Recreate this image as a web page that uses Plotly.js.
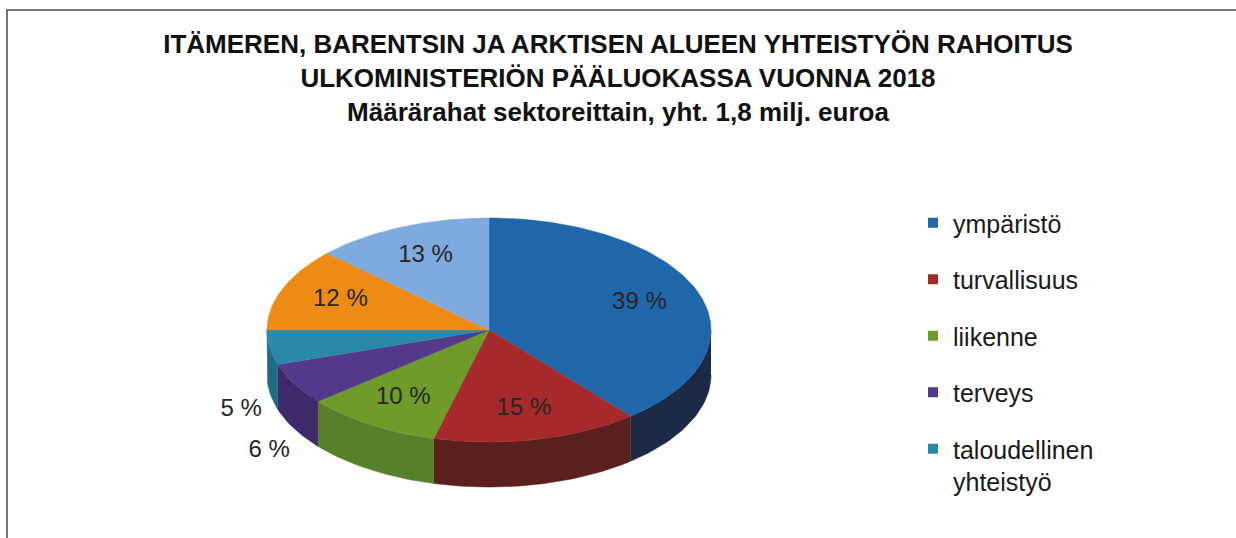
<!DOCTYPE html>
<html>
<head>
<meta charset="utf-8">
<script src="https://cdn.plot.ly/plotly-3.0.1.min.js"></script>
<style>html,body{margin:0;padding:0;background:#fff;}#chart{width:1236px;height:538px;}</style>
</head>
<body>
<div id="chart"></div>
<script>
// ---- data ----
const categories = ['ympäristö', 'turvallisuus', 'liikenne', 'terveys', 'taloudellinen yhteistyö', 'muu sektori A', 'muu sektori B'];
const values = [39, 15, 10, 6, 5, 12, 13];
const legendCategories = ['ympäristö', 'turvallisuus', 'liikenne', 'terveys', 'taloudellinen yhteistyö'];
const legendLabels = ['ympäristö', 'turvallisuus', 'liikenne', 'terveys', 'taloudellinen<br>yhteistyö'];
const topColors = ['#1f66ab', '#a62a2c', '#6e9b2a', '#54388a', '#2a89a8', '#ee8b15', '#7faadd'];
const sideColors = ['#1c2a46', '#5a201d', '#57802a', '#3c2a6a', '#1f6b82', '#b5680f', '#5a80b0'];
const titleText = '<b>ITÄMEREN, BARENTSIN JA ARKTISEN ALUEEN YHTEISTYÖN RAHOITUS<br>ULKOMINISTERIÖN PÄÄLUOKASSA VUONNA 2018<br>Määrärahat sektoreittain, yht. 1,8 milj. euroa</b>';

// ---- geometry (style) ----
const CX = 489, CY = 330, RX = 222, RY = 112, DEPTH = 45;
const FONT = 'Arial, "Liberation Sans", sans-serif';

const total = values.reduce((a, b) => a + b, 0);
const deg = Math.PI / 180;
function pt(theta, k, dy) { // theta in degrees clockwise from 12 o'clock
  return [CX + RX * k * Math.sin(theta * deg), CY - RY * k * Math.cos(theta * deg) + (dy || 0)];
}
function arc(a, b, dy) {
  const n = Math.max(2, Math.ceil(Math.abs(b - a) / 1.5));
  const xs = [], ys = [];
  for (let i = 0; i <= n; i++) {
    const p = pt(a + (b - a) * i / n, 1, dy);
    xs.push(p[0]); ys.push(p[1]);
  }
  return [xs, ys];
}

const traces = [];
const starts = [];
let acc = 0;
values.forEach(v => { starts.push(acc / total * 360); acc += v; });

// side walls (front half only)
values.forEach((v, i) => {
  const a = starts[i], b = starts[i] + v / total * 360;
  const s = Math.max(a, 90), e = Math.min(b, 270);
  if (e <= s) return;
  const top = arc(s, e, 0);
  const bot = arc(e, s, DEPTH);
  traces.push({
    type: 'scatter', mode: 'lines', fill: 'toself',
    x: top[0].concat(bot[0]), y: top[1].concat(bot[1]),
    fillcolor: sideColors[i], line: {color: sideColors[i], width: 0.5},
    hoverinfo: 'skip', showlegend: false
  });
});

// top slices
values.forEach((v, i) => {
  const a = starts[i], b = starts[i] + v / total * 360;
  const t = arc(a, b, 0);
  traces.push({
    type: 'scatter', mode: 'lines', fill: 'toself',
    x: [CX].concat(t[0], [CX]), y: [CY].concat(t[1], [CY]),
    fillcolor: topColors[i], line: {color: topColors[i], width: 0.5},
    name: categories[i], text: categories[i] + ': ' + v + ' %',
    hoveron: 'fills', hoverinfo: 'text', showlegend: false
  });
});

// percentage labels
const lx = [], ly = [], lt = [];
values.forEach((v, i) => {
  const mid = starts[i] + v / total * 180;
  const p = (v < 7) ? pt(mid, 1.13, DEPTH + 15) : pt(mid, 0.72, 0);
  lx.push(p[0]); ly.push(p[1]); lt.push(v + ' %');
});
traces.push({
  type: 'scatter', mode: 'text', x: lx, y: ly, text: lt,
  textfont: {family: FONT, size: 24, color: '#262626'},
  hoverinfo: 'skip', showlegend: false
});

// legend entries
legendCategories.forEach((c, j) => {
  const i = categories.indexOf(c);
  traces.push({
    type: 'scatter', mode: 'markers', x: [null], y: [null],
    name: legendLabels[j], legendgroup: 'g' + j,
    marker: {symbol: 'square', size: 10, color: topColors[i]},
    showlegend: true
  });
});

const layout = {
  width: 1236, height: 538,
  margin: {l: 0, r: 0, t: 0, b: 0},
  paper_bgcolor: '#ffffff', plot_bgcolor: '#ffffff',
  xaxis: {range: [0, 1236], visible: false, fixedrange: true},
  yaxis: {range: [538, 0], visible: false, fixedrange: true},
  title: {
    text: titleText, x: 0.5, xanchor: 'center', y: 1 - 53 / 538, yanchor: 'middle',
    font: {family: FONT, size: 26, color: '#111111'}
  },
  showlegend: true,
  legend: {
    x: 913 / 1236, y: 1 - 200 / 538, xanchor: 'left', yanchor: 'top',
    font: {family: FONT, size: 25, color: '#1a1a1a'},
    traceorder: 'grouped', tracegroupgap: 21, valign: 'top',
    bgcolor: 'rgba(0,0,0,0)', itemwidth: 30
  },
  shapes: [{
    type: 'rect', xref: 'x', yref: 'y', x0: 7, y0: 10, x1: 1245, y1: 550,
    line: {color: '#4a4a4a', width: 1.5}, fillcolor: 'rgba(0,0,0,0)', layer: 'above'
  }],
  hovermode: 'closest'
};

Plotly.newPlot('chart', traces, layout, {displayModeBar: false, staticPlot: false});
</script>
</body>
</html>
